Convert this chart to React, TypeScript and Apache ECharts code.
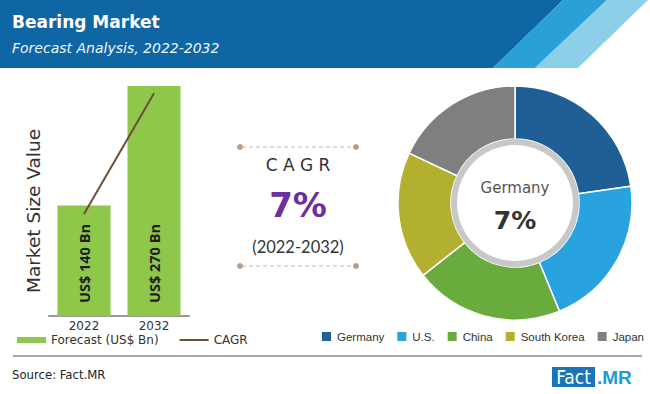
import React, { useEffect, useRef } from "react";
import * as echarts from "echarts";

const years = ["2022", "2032"];
const forecast = [140, 270];
const cagrLine = [131, 262];
const barLabels = ["US$ 140 Bn", "US$ 270 Bn"];
const countries = ["Germany", "U.S.", "China", "South Korea", "Japan"];
const shares = [22.7, 21.1, 20.6, 17.6, 18.0];
const countryColors = ["#1f5f96", "#29a3df", "#6aab3e", "#b4b02f", "#7f7f7f"];
const cagrValue = "7%";
const cagrPeriod = "(2022-2032)";
const centerCountry = "Germany";
const centerValue = "7%";

const FONT = "DejaVu Sans";
const NARROW = "Liberation Sans Narrow, DejaVu Sans Condensed, sans-serif";

export default function App() {
  const ref = useRef<HTMLDivElement>(null);
  useEffect(() => {
    if (!ref.current) return;
    const chart = echarts.init(ref.current, undefined, { renderer: "svg" });
    const option: any = {
      animation: false,
      legend: [
        {
          left: 17,
          top: 334,
          padding: 0,
          itemWidth: 29,
          itemHeight: 6,
          itemGap: 20,
          data: [
            { name: "Forecast (US$ Bn)", icon: "rect" },
            { name: "CAGR", itemStyle: { opacity: 0 } },
          ],
          textStyle: { fontSize: 12, color: "#333", fontFamily: FONT },
          selectedMode: false,
        },
        {
          left: 320,
          top: 330,
          padding: 0,
          width: 330,
          itemWidth: 11,
          itemHeight: 11,
          itemGap: 11,
          icon: "rect",
          data: countries,
          textStyle: { fontSize: 11.5, color: "#333", fontFamily: "Liberation Sans" },
          selectedMode: false,
        },
      ],
      grid: { left: 49, width: 140, top: 86, bottom: 78 },
      xAxis: {
        type: "category",
        data: years,
        axisLine: { lineStyle: { color: "#9a9a9a", width: 2 } },
        axisTick: { show: false },
        axisLabel: { color: "#333", fontSize: 12, margin: 3, lineHeight: 13, fontFamily: FONT },
      },
      yAxis: { type: "value", min: 20, max: 270, show: false },
      series: [
        {
          type: "bar",
          name: "Forecast (US$ Bn)",
          data: forecast,
          barWidth: 53,
          itemStyle: { color: "#8fc74a" },
          label: {
            show: true,
            position: "insideBottom",
            rotate: 90,
            align: "left",
            verticalAlign: "middle",
            distance: 13,
            formatter: (p: any) => barLabels[p.dataIndex],
            color: "#1f1f1f",
            fontWeight: "bold",
            fontSize: 14.5,
            fontFamily: "Open Sans",
          },
        },
        {
          type: "line",
          name: "CAGR",
          data: cagrLine,
          symbol: "none",
          lineStyle: { color: "#6b4f37", width: 2 },
          itemStyle: { color: "#6b4f37" },
          z: 5,
        },
        {
          type: "pie",
          name: "Share",
          center: [515, 203],
          radius: [64, 117],
          startAngle: 90,
          silent: true,
          label: { show: false },
          labelLine: { show: false },
          itemStyle: { borderColor: "#ffffff", borderWidth: 1.5 },
          data: countries.map((n, i) => ({
            name: n,
            value: shares[i],
            itemStyle: { color: countryColors[i] },
          })),
        },
      ],
      graphic: [
        { type: "polygon", shape: { points: [[0, 0], [563, 0], [493, 68], [0, 68]] }, style: { fill: "#0f66a5" } },
        { type: "polygon", shape: { points: [[563, 0], [607, 0], [535, 68], [493, 68]] }, style: { fill: "#2a9fd8" } },
        { type: "polygon", shape: { points: [[607, 0], [648, 0], [578, 68], [535, 68]] }, style: { fill: "#8dcfe9" } },
        {
          type: "text", x: 12, y: 22,
          style: { text: "Bearing Market", fill: "#fff", fontSize: 17, fontWeight: "bold", fontFamily: FONT, textVerticalAlign: "middle" },
        },
        {
          type: "text", x: 12, y: 48,
          style: { text: "Forecast Analysis, 2022-2032", fill: "#eef5fb", fontSize: 14, fontStyle: "italic", fontFamily: FONT, textVerticalAlign: "middle" },
        },
        {
          type: "text", x: 33, y: 211, rotation: Math.PI / 2,
          style: { text: "Market Size Value", fill: "#333", fontSize: 18.5, fontFamily: FONT, textAlign: "center", textVerticalAlign: "middle" },
        },
        { type: "line", shape: { x1: 242, y1: 147, x2: 354, y2: 147 }, style: { stroke: "#c9b8a8", lineWidth: 1, lineDash: [4, 3] } },
        { type: "circle", shape: { cx: 240, cy: 147, r: 3 }, style: { fill: "#b89c86" } },
        { type: "circle", shape: { cx: 356, cy: 147, r: 3 }, style: { fill: "#b89c86" } },
        { type: "line", shape: { x1: 242, y1: 266, x2: 354, y2: 266 }, style: { stroke: "#c9b8a8", lineWidth: 1, lineDash: [4, 3] } },
        { type: "circle", shape: { cx: 240, cy: 266, r: 3 }, style: { fill: "#b89c86" } },
        { type: "circle", shape: { cx: 356, cy: 266, r: 3 }, style: { fill: "#b89c86" } },
        {
          type: "text", x: 298, y: 165,
          style: { text: "C A G R", fill: "#333", fontSize: 17, fontFamily: FONT, textAlign: "center", textVerticalAlign: "middle" },
        },
        {
          type: "text", x: 298, y: 205,
          style: { text: cagrValue, fill: "#6c2f9e", fontSize: 34, fontWeight: "bold", fontFamily: FONT, textAlign: "center", textVerticalAlign: "middle" },
        },
        {
          type: "text", x: 298, y: 247,
          style: { text: cagrPeriod, fill: "#333", fontSize: 16.5, fontFamily: "Lato", textAlign: "center", textVerticalAlign: "middle" },
        },
        { type: "circle", z: 100, shape: { cx: 515, cy: 203, r: 61 }, style: { fill: "#ffffff", stroke: "#c8c8c8", lineWidth: 6 } },
        {
          type: "text", z: 101, x: 515, y: 188,
          style: { text: centerCountry, fill: "#555", fontSize: 15, fontFamily: FONT, textAlign: "center", textVerticalAlign: "middle" },
        },
        {
          type: "text", z: 101, x: 515, y: 220,
          style: { text: centerValue, fill: "#333", fontSize: 25, fontWeight: "bold", fontFamily: FONT, textAlign: "center", textVerticalAlign: "middle" },
        },
        { type: "line", shape: { x1: 13, y1: 356, x2: 642, y2: 356 }, style: { stroke: "#a8a8a8", lineWidth: 2 } },
        {
          type: "text", x: 12, y: 374,
          style: { text: "Source: Fact.MR", fill: "#222", fontSize: 13, fontFamily: NARROW, textVerticalAlign: "middle" },
        },
        { type: "rect", shape: { x: 552, y: 367, width: 43, height: 20 }, style: { fill: "#1a75b8" } },
        {
          type: "text", x: 573.5, y: 377,
          style: { text: "Fact", fill: "#fff", fontSize: 19, fontFamily: NARROW, textAlign: "center", textVerticalAlign: "middle" },
        },
        {
          type: "text", x: 597, y: 377,
          style: { text: ".MR", fill: "#1d9bd7", fontSize: 19, fontWeight: "bold", fontFamily: "Liberation Sans, sans-serif", textVerticalAlign: "middle" },
        },
      ],
    };
    chart.setOption(option);
    return () => chart.dispose();
  }, []);
  return <div ref={ref} style={{ position: "absolute", left: 0, top: 0, width: 650, height: 394 }} />;
}
